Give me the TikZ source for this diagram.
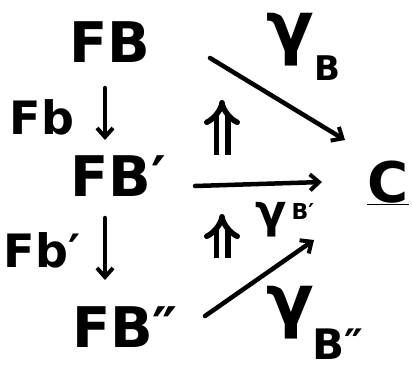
\documentclass[tikz,border=0pt]{standalone}
\usepackage{fontspec}
\setmainfont{DejaVu Sans}
\usetikzlibrary{arrows.meta}
\tikzset{
  lbl/.style={font=\bfseries\fontsize{56}{60}\selectfont, inner sep=0pt},
  sidelbl/.style={font=\bfseries\fontsize{46}{50}\selectfont, inner sep=0pt},
  gam/.style={font=\bfseries\fontsize{#1}{#1}\selectfont, inner sep=0pt},
  arr/.style={line width=4.5pt, line cap=round, -{Straight Barb[length=9pt,width=16pt,line width=4pt]}},
  twocell/.style={line width=5.5pt, double distance=6pt, -{Implies[length=6pt]}},
}
\begin{document}
\begin{tikzpicture}[x=1pt,y=-1pt]
\useasboundingbox[fill=white] (0,0) rectangle (412,373);
% objects
\node[lbl] (FB) at (110,42) {FB};
\node[lbl] (FBp) at (118,176) {FB′};
\node[lbl] (FBpp) at (125,327) {FB″};
\node[lbl] (C) at (388,183) {\underline{C}};
% side labels
\node[sidelbl] (Fb) at (42,117) {Fb};
\node[sidelbl] (Fbp) at (42,250) {Fb′};
% gamma labels
\node[gam=70] (gB) at (290,40) {γ};
\node[gam=34] (gBsub) at (327,68) {B};
\node[gam=46] (gBp) at (271,220) {γ};
\node[gam=22] (gBpsub) at (303,211) {B′};
\node[gam=70] (gBpp) at (290,313) {γ};
\node[gam=42] (gBppsub) at (338,344) {B″};
% arrow end points
\coordinate (d1s) at (105,88);
\coordinate (d1e) at (105,140);
\coordinate (d2s) at (105,218);
\coordinate (d2e) at (105,280);
\coordinate (a1s) at (210,58);
\coordinate (a1e) at (345,140);
\coordinate (a2s) at (195,186);
\coordinate (a2e) at (322,182);
\coordinate (a3s) at (205,316);
\coordinate (a3e) at (314,240);
\coordinate (t1s) at (222,155);
\coordinate (t1e) at (222,100);
\coordinate (t2s) at (222,258);
\coordinate (t2e) at (222,214);
% arrows
\draw[arr] (d1s) -- (d1e);
\draw[arr] (d2s) -- (d2e);
\draw[arr] (a1s) -- (a1e);
\draw[arr] (a2s) -- (a2e);
\draw[arr] (a3s) -- (a3e);
\draw[twocell] (t1s) -- (t1e);
\draw[twocell] (t2s) -- (t2e);
\end{tikzpicture}
\end{document}
